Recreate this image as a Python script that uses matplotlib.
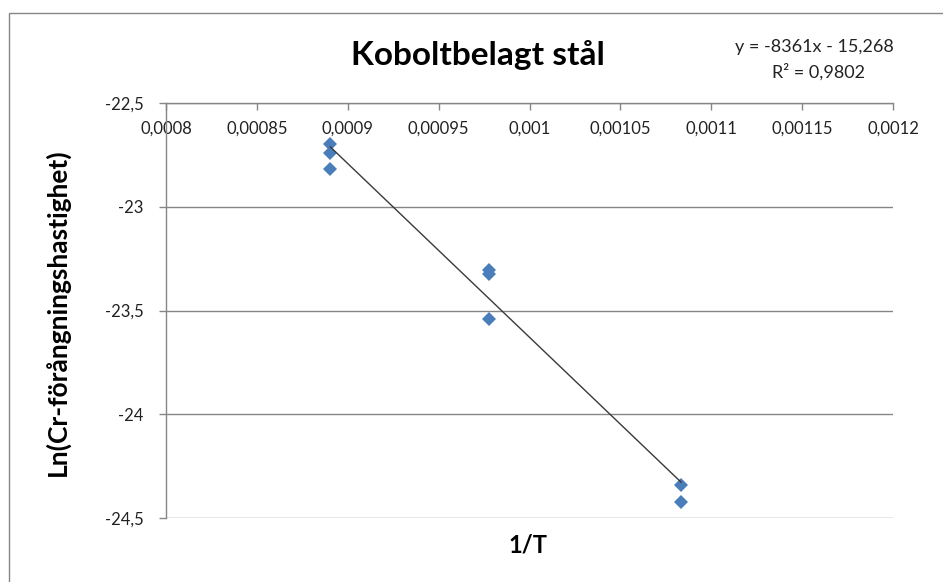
import matplotlib
matplotlib.use("Agg")
import matplotlib.pyplot as plt
from matplotlib.patches import Rectangle
from matplotlib.ticker import FuncFormatter, MultipleLocator

# Measurements: 1/T (1/K) and ln of Cr evaporation rate
inv_T = [0.00089047, 0.00089047, 0.00089047,
         0.0009775, 0.0009775, 0.0009775,
         0.0010834, 0.0010834]
ln_rate = [-22.70, -22.74, -22.82,
           -23.305, -23.325, -23.54,
           -24.34, -24.42]

# Linear trendline coefficients and fit quality
slope = -8361
intercept = -15.268
r_squared = 0.9802

title = "Koboltbelagt stål"
x_label = "1/T"
y_label = "Ln(Cr-förångningshastighet)"

FONT = ["Lato", "DejaVu Sans"]
GRAY = "#868686"
BLUE = "#4A7EBB"

W, H = 943, 582
fig = plt.figure(figsize=(W / 100, H / 100), dpi=100)
fig.patch.set_facecolor("white")

# chart-area frame
fig.patches.append(Rectangle((9 / W, -0.01), 1.2, (H - 13) / H + 0.01,
                             transform=fig.transFigure, fill=False,
                             edgecolor=GRAY, linewidth=1.0))

left, right, top, bottom = 166, 893, 102.7, 518.3
ax = fig.add_axes([left / W, 1 - bottom / H, (right - left) / W, (bottom - top) / H])

ax.plot(inv_T, ln_rate, linestyle="none", marker="D", markersize=7.2,
        markerfacecolor=BLUE, markeredgewidth=0, zorder=3)

x0, x1 = min(inv_T), max(inv_T)
ax.plot([x0, x1], [slope * x0 + intercept, slope * x1 + intercept],
        color="#3a3a3a", linewidth=1.0, zorder=4)

ax.set_xlim(0.0008, 0.0012)
ax.set_ylim(-24.5, -22.5)
ax.xaxis.set_major_locator(MultipleLocator(0.00005))
ax.yaxis.set_major_locator(MultipleLocator(0.5))

fmt = FuncFormatter(lambda v, p: f"{v:g}".replace(".", ","))
ax.xaxis.set_major_formatter(fmt)
ax.yaxis.set_major_formatter(fmt)

# horizontal axis sits at the top edge, labels hang below it
ax.xaxis.tick_top()
ax.tick_params(axis="x", direction="in", length=5, width=1, color=GRAY,
               pad=-24.5, labelsize=12, labelcolor="#222222")
ax.tick_params(axis="y", direction="out", length=5, width=1, color=GRAY,
               pad=11, labelsize=12, labelcolor="#222222")
for lab in ax.get_xticklabels() + ax.get_yticklabels():
    lab.set_family(FONT)

for s in ("right", "bottom"):
    ax.spines[s].set_visible(False)
for s in ("left", "top"):
    ax.spines[s].set_color(GRAY)
    ax.spines[s].set_linewidth(1.0)

ax.grid(axis="y", color=GRAY, linewidth=1.0)
ax.set_axisbelow(True)

fig.text(478 / W, 1 - 55 / H, title, ha="center", va="center",
         fontsize=24, fontweight="bold", family=FONT)
fig.text(528 / W, 1 - 545 / H, x_label, ha="center", va="center",
         fontsize=17, fontweight="bold", family=FONT)
fig.text(57 / W, 1 - 312 / H, y_label, ha="center", va="center",
         rotation=90, fontsize=19, fontweight="bold", family=FONT)

eq = f"y = {slope:g}x - {abs(intercept):g}".replace(".", ",")
r2 = f"R² = {r_squared:g}".replace(".", ",")
fig.text(814 / W, 1 - 47 / H, eq, ha="center", va="center",
         fontsize=13, family=FONT, color="#222222")
fig.text(819 / W, 1 - 72 / H, r2, ha="center", va="center",
         fontsize=13, family=FONT, color="#222222")

fig.savefig("out.png", dpi=100, facecolor="white")
